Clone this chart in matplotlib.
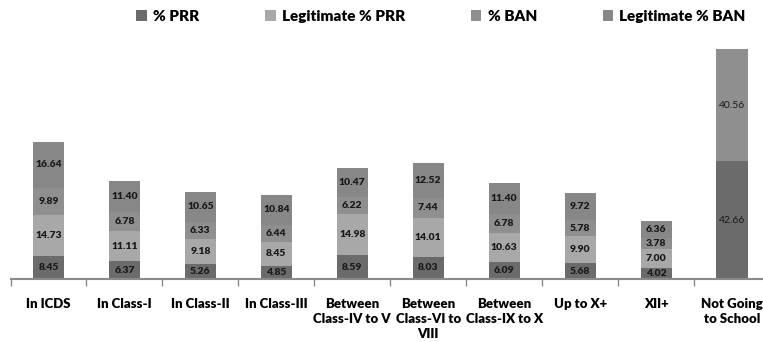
import numpy as np
import matplotlib.pyplot as plt

categories = ['In ICDS', 'In Class-I', 'In Class-II', 'In Class-III',
              'Between\nClass-IV to V', 'Between\nClass-VI to\nVIII',
              'Between\nClass-IX to X', 'Up to X+', 'XII+', 'Not Going\nto School']
series_names = ['% PRR', 'Legitimate % PRR', '% BAN', 'Legitimate % BAN']
prr = [8.45, 6.37, 5.26, 4.85, 8.59, 8.03, 6.09, 5.68, 4.02, 42.66]
legit_prr = [14.73, 11.11, 9.18, 8.45, 14.98, 14.01, 10.63, 9.90, 7.00, 0]
ban = [9.89, 6.78, 6.33, 6.44, 6.22, 7.44, 6.78, 5.78, 3.78, 40.56]
legit_ban = [16.64, 11.40, 10.65, 10.84, 10.47, 12.52, 11.40, 9.72, 6.36, 0]

colors = ['#6b6b6b', '#a8a8a8', '#8f8f8f', '#878787']
plt.rcParams['font.family'] = ['Lato', 'DejaVu Sans']

fig = plt.figure(figsize=(7.63, 3.42), dpi=100)
ax = fig.add_axes([10.5 / 763, 63 / 342, 759.5 / 763, 276 / 342])

x = np.arange(len(categories))
bottom = np.zeros(len(categories))
for name, vals, c in zip(series_names, [prr, legit_prr, ban, legit_ban], colors):
    vals = np.array(vals, dtype=float)
    ax.bar(x, vals, 0.41, bottom=bottom, color=c, label=name)
    for xi, b, v in zip(x, bottom, vals):
        if v > 0:
            # the last column is labelled in regular weight
            weight = 'normal' if xi == len(categories) - 1 else 'heavy'
            ax.text(xi, b + v / 2, f'{v:.2f}', ha='center', va='center',
                    fontsize=7.5, fontweight=weight, color='#1a1a1a')
    bottom += vals

ax.set_xlim(-0.5, len(categories) - 0.5)
ax.set_ylim(0, 100)
for s in ['top', 'right', 'left']:
    ax.spines[s].set_visible(False)
ax.spines['bottom'].set_color('#8a8a8a')
ax.spines['bottom'].set_linewidth(1.5)
ax.set_yticks([])
ax.set_xticks(x, categories, fontsize=9.5, fontweight='heavy', linespacing=1.3)
ax.set_xticks(np.arange(len(categories) + 1) - 0.5, minor=True)
ax.tick_params(axis='x', which='major', length=0, pad=14)
ax.tick_params(axis='x', which='minor', length=5, width=1, color='#8a8a8a')

fig.legend(loc='center', bbox_to_anchor=(0.578, 0.953), ncol=4, frameon=False,
           handlelength=0.7, handleheight=0.7, handletextpad=0.4,
           columnspacing=4.3, prop={'weight': 'heavy', 'size': 11})

fig.savefig('out.png', dpi=100)
